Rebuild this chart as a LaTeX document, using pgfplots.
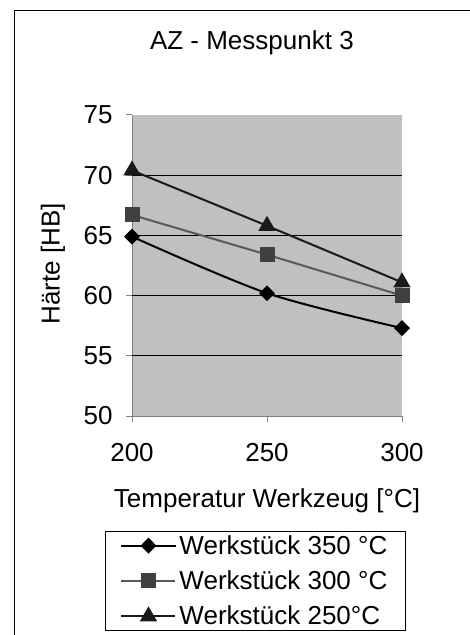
\documentclass[border=0pt]{standalone}
\usepackage{fontspec}
\setmainfont{Liberation Sans}
\usepackage{pgfplots}
\pgfplotsset{compat=1.18}
\definecolor{plotbg}{HTML}{C0C0C0}
\definecolor{sqline}{HTML}{595959}
\definecolor{sqfill}{HTML}{404040}
\definecolor{trifill}{HTML}{1A1A1A}

\begin{document}
\begin{tikzpicture}[font=\fontsize{26bp}{31bp}\selectfont]
\useasboundingbox (0,0) rectangle (470bp,635bp);
% outer chart frame (only left and top edges are in view)
\draw[line width=1bp] (14bp,0) -- (14bp,624bp) -- (470bp,624bp);
\begin{axis}[
    at={(132bp,219bp)}, anchor=south west,
    scale only axis,
    width=270bp, height=301bp,
    xmin=200, xmax=300,
    ymin=50, ymax=75,
    xtick={200,250,300},
    ytick={50,55,...,75},
    axis x line*=bottom,
    axis y line*=left,
    axis line style={gray, line width=1bp},
    tick align=outside,
    major tick length=6bp,
    tick style={gray, line width=1bp},
    xticklabel shift=18bp,
    yticklabel shift=10bp,
    extra y ticks={55,60,65,70},
    extra y tick labels={},
    extra y tick style={grid=major, major tick length=0pt},
    grid style={black, line width=0.8bp},
    axis background/.style={fill=plotbg},
    /pgf/number format/assume math mode=true,
    title={AZ - Messpunkt 3},
    title style={at={(axis description cs:0.444,1.22)}, anchor=center},
    xlabel={Temperatur Werkzeug [°C]},
    xlabel style={at={(axis description cs:0.5,-0.282)}, anchor=center},
    ylabel={Härte [HB]},
    ylabel style={at={(axis description cs:-0.293,0.505)}, anchor=center, rotate=0},
    legend style={at={(axis description cs:-0.1,-0.382)}, anchor=north west,
        draw=black, line width=1bp, fill=white,
        inner xsep=15bp, inner ysep=1bp, row sep=9bp,
        nodes={inner sep=3bp}},
    legend cell align=left,
    legend image code/.code={
        \draw[mark repeat=2, mark phase=2, #1]
            plot coordinates {(0bp,0bp) (27bp,0bp) (54bp,0bp)};
    },
]
\addplot[black, line width=2bp, smooth, mark=diamond*,
    mark options={solid, fill=black, xscale=1.33}, mark size=6.5bp]
    coordinates {(200,64.9) (250,60.2) (300,57.3)};
\addlegendentry{Werkstück 350 °C}
\addplot[sqline, line width=2bp, mark=square*,
    mark options={solid, fill=sqfill, draw=sqfill}, mark size=6.5bp]
    coordinates {(200,66.7) (250,63.4) (300,60.0)};
\addlegendentry{Werkstück 300 °C}
\addplot[trifill, line width=2bp, mark=triangle*,
    mark options={solid, fill=trifill, draw=trifill}, mark size=8bp]
    coordinates {(200,70.4) (250,65.8) (300,61.1)};
\addlegendentry{Werkstück 250°C}
\end{axis}
\end{tikzpicture}
\end{document}
